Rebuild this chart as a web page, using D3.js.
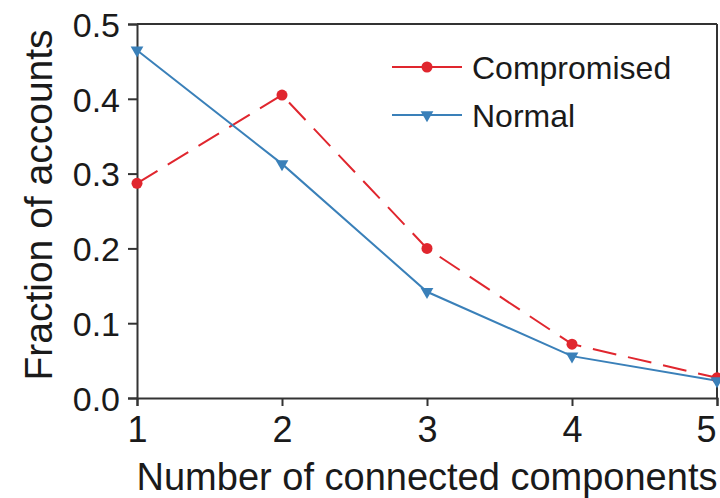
<!DOCTYPE html>
<html>
<head>
<meta charset="utf-8">
<script src="https://cdn.jsdelivr.net/npm/d3@7"></script>
<style>
  body { margin: 0; background: #fff; }
  svg { display: block; }
  text { font-family: "Liberation Sans", Arial, sans-serif; fill: #1a1a1a; }
</style>
</head>
<body>
<svg id="chart" width="720" height="498"></svg>
<script>
const xValues = [1, 2, 3, 4, 5];
const compromised = [0.287, 0.405, 0.200, 0.072, 0.027];
const normal = [0.465, 0.313, 0.142, 0.056, 0.023];
const yTicks = [0, 0.1, 0.2, 0.3, 0.4, 0.5];
const seriesNames = ["Compromised", "Normal"];
const xTitle = "Number of connected components";
const yTitle = "Fraction of accounts";

const svg = d3.select("#chart");
const W = 720, H = 498;
const m = { left: 137, right: 3, top: 24, bottom: 100 };
const x = d3.scaleLinear().domain([1, 5]).range([m.left, W - m.right]);
const y = d3.scaleLinear().domain([0, 0.5]).range([H - m.bottom, m.top]);

const red = "#e0262e", blue = "#3a80b9", axisColor = "#333";

// frame (top + right)
svg.append("line").attr("x1", x(1)).attr("x2", x(5)).attr("y1", y(0.5)).attr("y2", y(0.5))
  .attr("stroke", axisColor).attr("stroke-width", 2);
svg.append("line").attr("x1", x(5)).attr("x2", x(5)).attr("y1", y(0.5)).attr("y2", y(0))
  .attr("stroke", axisColor).attr("stroke-width", 2);

// axes
const xAxis = svg.append("g").attr("transform", `translate(0,${y(0)})`)
  .call(d3.axisBottom(x).tickValues(xValues).tickFormat(d3.format("d")).tickSize(8).tickPadding(10));
const yAxis = svg.append("g").attr("transform", `translate(${x(1)},0)`)
  .call(d3.axisLeft(y).tickValues(yTicks).tickFormat(d3.format(".1f")).tickSize(9).tickPadding(8));
[xAxis, yAxis].forEach(g => {
  g.select(".domain").attr("stroke", axisColor).attr("stroke-width", 2);
  g.selectAll(".tick line").attr("stroke", axisColor).attr("stroke-width", 2);
  g.selectAll("text").attr("fill", "#1a1a1a").style("font-family", '"Liberation Sans", Arial, sans-serif');
});
xAxis.selectAll("text").style("font-size", "36px");
xAxis.selectAll(".tick").filter(d => d === 5).select("text").attr("text-anchor", "end").attr("dx", "-1");
yAxis.selectAll("text").style("font-size", "34px").attr("dy", "0.36em");

// titles
svg.append("text").attr("x", (x(1) + x(5)) / 2).attr("y", 490).attr("text-anchor", "middle")
  .style("font-size", "38px").text(xTitle);
svg.append("text").attr("transform", `translate(52,${(y(0) + y(0.5)) / 2 - 6}) rotate(-90)`)
  .attr("text-anchor", "middle").style("font-size", "39px").text(yTitle);

// lines
const line = d3.line().x((d, i) => x(xValues[i])).y(d => y(d));
svg.append("path").datum(compromised).attr("d", line).attr("fill", "none")
  .attr("stroke", red).attr("stroke-width", 2).attr("stroke-dasharray", "24,12");
svg.append("path").datum(normal).attr("d", line).attr("fill", "none")
  .attr("stroke", blue).attr("stroke-width", 2);

const tri = d3.symbol().type(d3.symbolTriangle).size(70);
svg.append("g").selectAll("circle").data(compromised).join("circle")
  .attr("cx", (d, i) => x(xValues[i])).attr("cy", d => y(d)).attr("r", 5.5).attr("fill", red);
svg.append("g").selectAll("path").data(normal).join("path")
  .attr("d", tri).attr("transform", (d, i) => `translate(${x(xValues[i])},${y(d)}) rotate(180)`)
  .attr("fill", blue);

// legend
const legend = svg.append("g");
const legendItems = [
  { name: seriesNames[0], color: red, y: 67, marker: "circle" },
  { name: seriesNames[1], color: blue, y: 115, marker: "tri" }
];
legendItems.forEach(it => {
  legend.append("line").attr("x1", 392).attr("x2", 462).attr("y1", it.y).attr("y2", it.y)
    .attr("stroke", it.color).attr("stroke-width", 2);
  if (it.marker === "circle") {
    legend.append("circle").attr("cx", 427).attr("cy", it.y).attr("r", 5.5).attr("fill", it.color);
  } else {
    legend.append("path").attr("d", tri).attr("transform", `translate(427,${it.y}) rotate(180)`).attr("fill", it.color);
  }
  legend.append("text").attr("x", 472).attr("y", it.y + 11.5).style("font-size", "32px").text(it.name);
});
</script>
</body>
</html>
